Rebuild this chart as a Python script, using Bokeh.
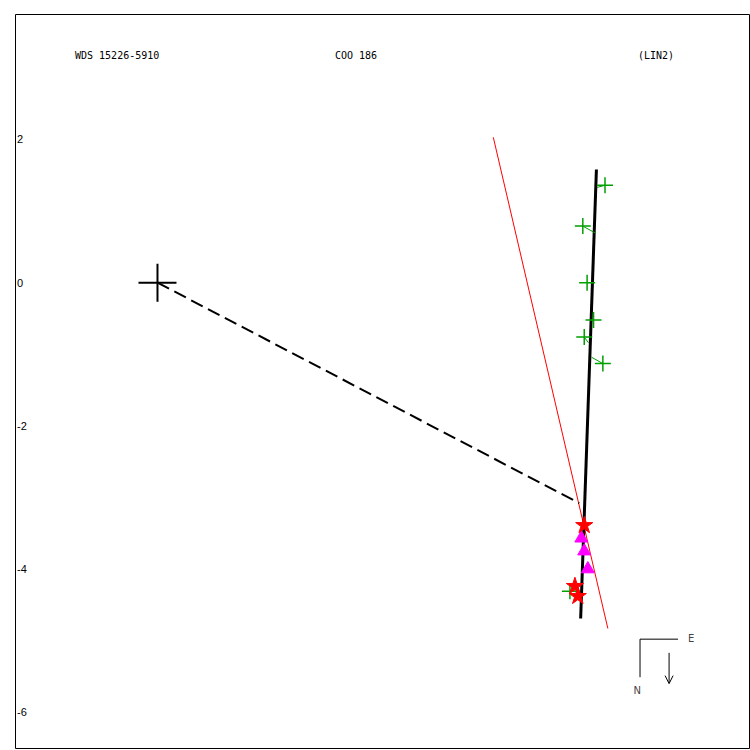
from bokeh.plotting import figure
from bokeh.models import Range1d, ColumnDataSource, Label, Arrow, OpenHead
from bokeh.core.properties import value
from bokeh.embed import file_html
from bokeh.resources import INLINE

# ---- data (arcsec) ----
primary_x = [0.0]
primary_y = [0.0]

obs_x = [6.25, 5.94, 6.00, 6.09, 5.96, 6.22, 5.76]
obs_y = [1.36, 0.79, 0.00, -0.52, -0.76, -1.13, -4.31]
pred_x = [6.14, 6.12, 6.08, 6.08, 6.02, 6.06, 5.86]
pred_y = [1.33, 0.69, 0.00, -0.54, -0.84, -1.04, -4.31]

tri_x = [5.92, 5.96, 6.01]
tri_y = [-3.57, -3.75, -4.00]

star_x = [5.96, 5.83, 5.87]
star_y = [-3.39, -4.24, -4.38]

fit_x = [6.13, 5.91]
fit_y = [1.58, -4.69]

red_x = [4.69, 6.29]
red_y = [2.03, -4.83]

node_x = [0.0, 5.89]
node_y = [0.0, -3.08]

tick_vals = [2, 0, -2, -4, -6]
tick_labels = ["2", "0", "-2", "-4", "-6"]

title_left = "WDS 15226-5910"
title_mid = "COO 186"
title_right = "(LIN2)"

# ---- figure ----
p = figure(width=750, height=750, output_backend="svg", toolbar_location=None,
           x_range=Range1d(-1.983, 8.282), y_range=Range1d(-6.506, 3.745),
           min_border_left=15, min_border_top=14, min_border_right=0, min_border_bottom=2)
p.axis.visible = False
p.grid.visible = False
p.outline_line_color = "black"
p.outline_line_width = 1
p.background_fill_color = "white"
p.border_fill_color = "white"

# tick labels inside the frame
p.text(x=[-1.962] * len(tick_vals), y=tick_vals, text=tick_labels,
       text_font=value("Liberation Sans"), text_font_size="11px",
       text_align="left", text_baseline="middle", text_color="black")

# titles
for txt, tx in [(title_left, -1.152), (title_mid, 2.479), (title_right, 6.711)]:
    p.add_layout(Label(x=tx, y=3.177, text=txt, text_font="DejaVu Sans Mono",
                       text_font_size="10px", text_align="left",
                       text_baseline="middle", text_color="black"))

# lines
p.line(red_x, red_y, line_color="red", line_width=1)
p.line(node_x, node_y, line_color="black", line_width=2, line_dash="13 6")
p.line(fit_x, fit_y, line_color="black", line_width=3)

# residuals and observations
src = ColumnDataSource(dict(x=obs_x, y=obs_y, px=pred_x, py=pred_y))
p.segment(x0="x", y0="y", x1="px", y1="py", source=src, line_color="#00a000", line_width=1)
p.scatter(x="x", y="y", source=src, marker="cross", size=16, line_color="#00a000", line_width=1.5)

p.scatter(tri_x, tri_y, marker="triangle", size=13, fill_color="#ff00ff", line_color="#ff00ff")
p.scatter(star_x, star_y, marker="star", size=18, fill_color="red", line_color="red")

# primary
p.scatter(primary_x, primary_y, marker="cross", size=38, line_color="black", line_width=2)

# compass
cx, cy = 6.739, -4.979
p.line([7.27, cx, cx], [cy, cy, -5.51], line_color="black", line_width=1)
p.add_layout(Label(x=7.41, y=-4.965, text="E", text_font="DejaVu Sans",
                   text_font_size="10px", text_align="left", text_baseline="middle"))
p.add_layout(Label(x=6.70, y=-5.69, text="N", text_font="DejaVu Sans",
                   text_font_size="10px", text_align="center", text_baseline="middle"))
p.add_layout(Arrow(x_start=7.145, y_start=-5.17, x_end=7.145, y_end=-5.60,
                   line_color="black", line_width=1,
                   end=OpenHead(size=8, line_color="black", line_width=1)))

open("out.html", "w").write(file_html(p, INLINE))
